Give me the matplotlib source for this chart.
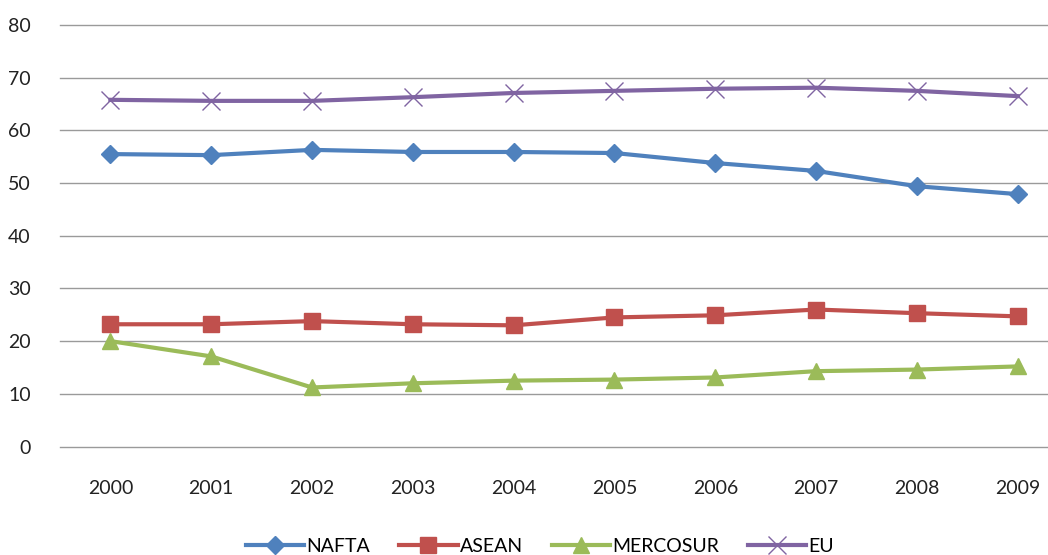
import matplotlib as mpl
mpl.use('Agg')
import matplotlib.pyplot as plt

plt.rcParams['font.family'] = ['Lato', 'DejaVu Sans']

years = ['2000', '2001', '2002', '2003', '2004', '2005', '2006', '2007', '2008', '2009']
nafta = [55.5, 55.3, 56.3, 55.9, 55.9, 55.7, 53.8, 52.3, 49.4, 47.9]
asean = [23.2, 23.2, 23.8, 23.2, 23.0, 24.5, 24.9, 26.0, 25.3, 24.7]
mercosur = [20.0, 17.1, 11.2, 12.0, 12.5, 12.7, 13.1, 14.3, 14.6, 15.2]
eu = [65.8, 65.6, 65.6, 66.3, 67.1, 67.5, 67.9, 68.1, 67.5, 66.5]

fig = plt.figure(figsize=(10.48, 5.55), dpi=100)
ax = fig.add_axes([60 / 1048, 1 - 446.5 / 555, 1 - 60 / 1048, 421.5 / 555])

x = list(range(len(years)))
ax.plot(x, nafta, color='#4F81BD', lw=3, marker='D', ms=9, label='NAFTA', zorder=3)
ax.plot(x, asean, color='#C0504D', lw=3, marker='s', ms=11, label='ASEAN', zorder=3)
ax.plot(x, mercosur, color='#9BBB59', lw=3, marker='^', ms=12, label='MERCOSUR', zorder=3)
ax.plot(x, eu, color='#8064A2', lw=3, marker='x', ms=13, mew=1, label='EU', zorder=3)

ax.set_ylim(0, 80)
ax.set_yticks(range(0, 81, 10))
ax.set_xlim(-0.5, 9.3)
ax.set_xticks(x)
ax.set_xticklabels(years)
ax.grid(axis='y', color='#9a9a9a', lw=1)
for gl in ax.get_ygridlines():
    gl.set_clip_on(False)
ax.set_axisbelow(True)
for s in ax.spines.values():
    s.set_visible(False)
ax.tick_params(axis='both', length=0, labelsize=14, colors='#222222')
ax.tick_params(axis='y', pad=21)
ax.tick_params(axis='x', pad=24)

leg = fig.legend(loc='center', bbox_to_anchor=(540 / 1048, 1 - 546 / 555), ncol=4,
                 frameon=False, fontsize=14, handlelength=3.0, columnspacing=1.5,
                 handletextpad=0.1)

fig.savefig('out.png', dpi=100)
